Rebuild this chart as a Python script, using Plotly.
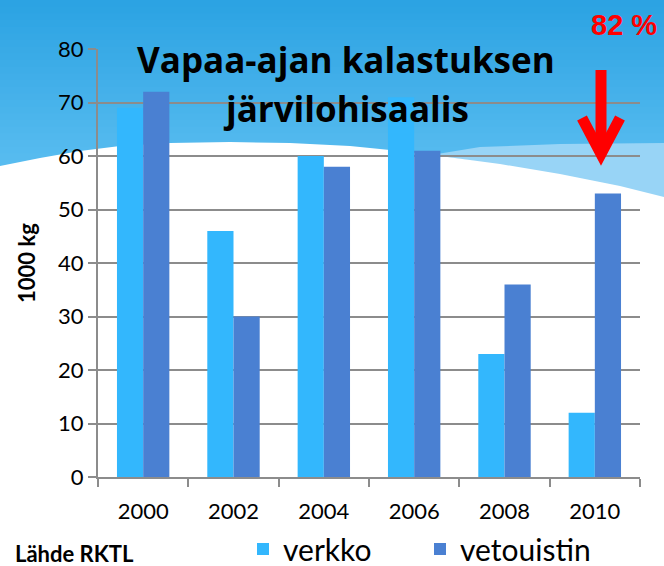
import plotly.graph_objects as go

years = ["2000", "2002", "2004", "2006", "2008", "2010"]
verkko = [69, 46, 60, 71, 23, 12]
vetouistin = [72, 30, 58, 61, 36, 53]
y_ticks = [0, 10, 20, 30, 40, 50, 60, 70, 80]

W, H = 664, 566
L, R, T, B = 98, 24, 49, 89
PW, PH = W - L - R, H - T - B

def px(x):
    return (x - L) / PW

def py(y):
    return (H - B - y) / PH

fig = go.Figure()
fig.add_trace(go.Bar(x=years, y=verkko, name="verkko", marker=dict(color="#33B7FD", line=dict(width=0))))
fig.add_trace(go.Bar(x=years, y=vetouistin, name="vetouistin", marker=dict(color="#4A80D2", line=dict(width=0))))

shapes = []
# gradient background bands
n = 30
top_c = (0x2C, 0xA3, 0xE3)
bot_c = (0x62, 0xC2, 0xF3)
y0, y1 = 0, 200
for i in range(n):
    t = i / (n - 1)
    c = tuple(int(top_c[k] + (bot_c[k] - top_c[k]) * t) for k in range(3))
    ya = y0 + (y1 - y0) * i / n
    yb = y0 + (y1 - y0) * (i + 1) / n + 1
    shapes.append(dict(type="rect", xref="paper", yref="paper", layer="below",
                       x0=px(0), x1=px(W), y0=py(ya), y1=py(yb),
                       fillcolor="rgb(%d,%d,%d)" % c, line=dict(width=0)))
# patterned light region (right)
pts = [(425, 156), (480, 147), (560, 144), (664, 143), (664, 200), (600, 183), (520, 168), (440, 156)]
path = "M " + " L ".join("%f,%f" % (px(a), py(b)) for a, b in pts) + " Z"
shapes.append(dict(type="path", xref="paper", yref="paper", layer="below", path=path,
                   fillcolor="#98D4F6", line=dict(width=0)))
# white wave
wave = [(0, 166), (40, 158), (80, 151), (120, 146), (170, 143), (230, 142), (290, 143),
        (350, 146), (400, 151), (440, 156), (500, 164), (560, 174), (620, 186), (664, 197),
        (664, 566), (0, 566)]
path = "M " + " L ".join("%f,%f" % (px(a), py(b)) for a, b in wave) + " Z"
shapes.append(dict(type="path", xref="paper", yref="paper", layer="below", path=path,
                   fillcolor="white", line=dict(width=0)))
# red arrow
shapes.append(dict(type="line", xref="paper", yref="paper", layer="above",
                   x0=px(601), x1=px(601), y0=py(70), y1=py(150),
                   line=dict(color="#FF0000", width=11)))
arrow = [(582, 118), (601, 154), (620, 118)]
path = "M " + " L ".join("%f,%f" % (px(a), py(b)) for a, b in arrow)
shapes.append(dict(type="path", xref="paper", yref="paper", layer="above", path=path,
                   line=dict(color="#FF0000", width=11)))

annotations = [
    dict(text="<b>Vapaa-ajan kalastuksen</b>", x=px(346), y=py(60), xref="paper", yref="paper",
         showarrow=False, font=dict(family="Open Sans", size=35, color="black"), xanchor="center", yanchor="middle"),
    dict(text="<b>järvilohisaalis</b>", x=px(346), y=py(108), xref="paper", yref="paper",
         showarrow=False, font=dict(family="Open Sans", size=35, color="black"), xanchor="center", yanchor="middle"),
    dict(text="<b>82 %</b>", x=px(624), y=py(25), xref="paper", yref="paper",
         showarrow=False, font=dict(family="Liberation Sans", size=29, color="#FF0000"), xanchor="center", yanchor="middle"),
    dict(text="<b>1000 kg</b>", x=px(26), y=py(263), xref="paper", yref="paper", textangle=-90,
         showarrow=False, font=dict(family="Lato", size=22, color="black"), xanchor="center", yanchor="middle"),
    dict(text="<b>Lähde RKTL</b>", x=px(13), y=py(569), xref="paper", yref="paper",
         showarrow=False, font=dict(family="Lato", size=22, color="black"), xanchor="left", yanchor="bottom"),
]

fig.update_layout(
    width=W, height=H,
    margin=dict(l=L, r=R, t=T, b=B, autoexpand=False),
    paper_bgcolor="white",
    plot_bgcolor="rgba(0,0,0,0)",
    barmode="group",
    bargap=0.42,
    bargroupgap=0,
    shapes=shapes,
    annotations=annotations,
    font=dict(family="Lato", color="black"),
    legend=dict(orientation="h", x=px(243), y=py(575), xanchor="left", yanchor="bottom",
                font=dict(family="Lato", size=30, color="black"), bgcolor="rgba(0,0,0,0)",
                itemwidth=30, entrywidth=132, entrywidthmode="pixels", traceorder="normal"),
    xaxis=dict(type="category", showline=True, linecolor="#8C8C8C", linewidth=2,
               ticks="outside", ticklen=8, tickcolor="#8C8C8C", tickwidth=2,
               tickson="boundaries", ticklabelstandoff=14,
               tickfont=dict(family="Lato", size=22, color="black"), showgrid=False),
    yaxis=dict(range=[0, 80], tickvals=y_ticks, showline=True, linecolor="#8C8C8C", linewidth=2,
               ticks="outside", ticklen=8, tickcolor="#8C8C8C", tickwidth=2,
               showgrid=True, gridcolor="#8C8C8C", gridwidth=2, zeroline=False,
               ticksuffix="\u2002\u2009",
               tickfont=dict(family="Lato", size=22, color="black")),
)

fig.write_html("out.html", config={"displayModeBar": False},
               post_script="document.body.style.margin='0px';document.body.style.overflow='hidden';")
